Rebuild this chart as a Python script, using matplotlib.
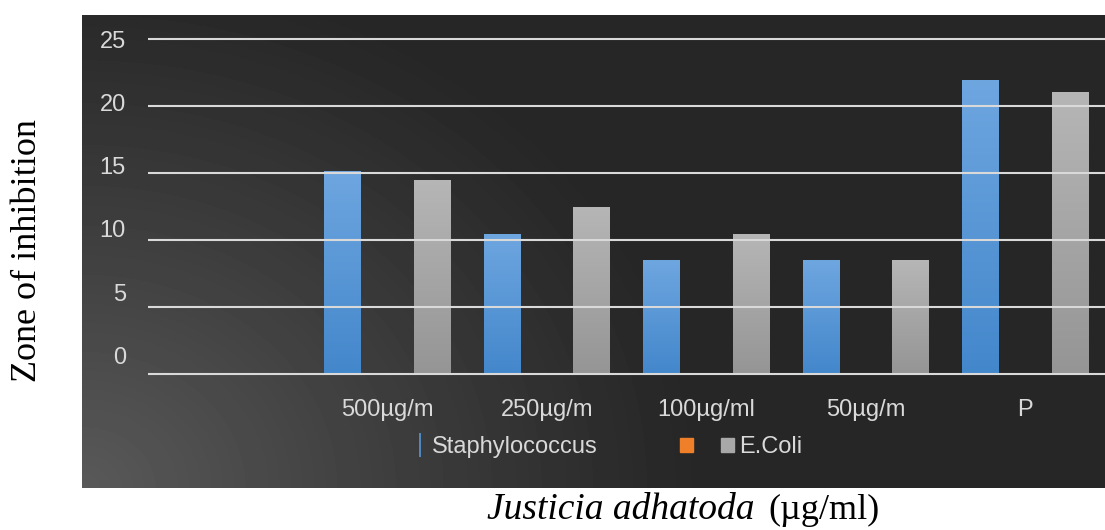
import matplotlib.pyplot as plt
import matplotlib.transforms as mtransforms
import numpy as np
from matplotlib.lines import Line2D
from matplotlib.patches import Patch
from matplotlib.colors import LinearSegmentedColormap

# data
categories = ['', '500µg/m', '250µg/m', '100µg/ml', '50µg/m', 'P']
staph = [0, 15.2, 10.5, 8.5, 8.5, 22.0]
series2 = [0, 0, 0, 0, 0, 0]
ecoli = [0, 14.5, 12.5, 10.5, 8.5, 21.1]
yticks = [0, 5, 10, 15, 20, 25]

blue = '#5597d9'
orange = '#f07f2a'
grey = '#a8a8a8'
light = '#d9d9d9'

plt.rcParams['font.family'] = ['Liberation Sans', 'DejaVu Sans']

W, H = 1105, 530
fig = plt.figure(figsize=(W / 100, H / 100), dpi=100)

# dark gradient panel behind the chart
pw, ph = 1023, 473
bg = fig.add_axes([82 / W, 42 / H, pw / W, ph / H])
yy, xx = np.mgrid[0:ph, 0:pw]
d = np.hypot((xx - 0) / 620, (yy - 473) / 520)
shade = 0.15 + 0.20 * np.clip(1 - d, 0, 1) ** 1.1
bg.imshow(shade, cmap='gray', vmin=0, vmax=1, aspect='auto', origin='upper')
bg.axis('off')

# main chart axes
ax = fig.add_axes([148 / W, 1 - 377 / H, (W - 148) / W, 341.7 / H])
ax.patch.set_alpha(0)

x = np.arange(len(categories))
bw = 0.227
b1 = ax.bar(x - 0.28, staph, bw, color=blue)
b2 = ax.bar(x, series2, bw, color=orange)
b3 = ax.bar(x + 0.28, ecoli, bw, color=grey)

ax.set_xlim(-0.5, len(categories) - 0.5)
ax.set_ylim(-0.2, 25.3)

# soft vertical gradient on each bar, lighter at the top
grad = np.linspace(1, 0, 256).reshape(-1, 1)
cm_blue = LinearSegmentedColormap.from_list('b', ['#4387cb', '#6ea6e0'])
cm_grey = LinearSegmentedColormap.from_list('g', ['#959595', '#b6b6b6'])
for bars, cm in [(b1, cm_blue), (b3, cm_grey)]:
    for bar in bars:
        if bar.get_height() <= 0:
            continue
        x0, w0, h0 = bar.get_x(), bar.get_width(), bar.get_height()
        im = ax.imshow(grad[::-1], cmap=cm, aspect='auto', origin='lower',
                       extent=(x0, x0 + w0, 0, h0), zorder=1.2)
        im.set_clip_path(bar)

ax.set_xlim(-0.5, len(categories) - 0.5)
ax.set_ylim(-0.2, 25.3)
ax.set_yticks(yticks)
ax.set_xticks(x)
ax.set_xticklabels(categories)
ax.yaxis.grid(True, color=light, linewidth=1.5)
for s in ax.spines.values():
    s.set_visible(False)
ax.tick_params(axis='both', length=0, colors=light, labelsize=17)
ax.tick_params(axis='x', pad=15.5)
ax.tick_params(axis='y', pad=16)

# labels sit above their gridlines in the original, more so lower down
for v, lab in zip(yticks, ax.get_yticklabels()):
    up = 19 * (1 - v / 25) * 0.72
    lab.set_transform(lab.get_transform() +
                      mtransforms.ScaledTranslation(0, up / 72, fig.dpi_scale_trans))

# legend
ly = 1 - 447 / H
h1 = Line2D([0], [0], color=blue, marker='|', ls='none', markersize=17, mew=1.2)
fig.legend([h1], ['Staphylococcus'], loc='center left',
           bbox_to_anchor=(414 / W, ly), frameon=False, fontsize=17,
           labelcolor=light, handlelength=0.55, handletextpad=0.2,
           borderpad=0, borderaxespad=0)
h2 = Patch(color=orange)
h3 = Patch(color=grey)
fig.legend([h2, h3], ['', 'E.Coli'], loc='center left', ncol=2,
           bbox_to_anchor=(680 / W, ly), frameon=False, fontsize=17,
           labelcolor=light, handlelength=0.55, handleheight=0.55,
           handletextpad=0.2, columnspacing=1.0, borderpad=0, borderaxespad=0)

# axis titles outside the panel
fig.text(28 / W, 1 - 251 / H, 'Zone of inhibition', rotation=90,
         family='Liberation Serif', fontsize=26, ha='center', va='center')
fig.text(487 / W, 1 - 519 / H, 'Justicia adhatoda', family='Liberation Serif',
         style='italic', fontsize=27, ha='left', va='baseline')
fig.text(768 / W, 1 - 519 / H, '(µg/ml)', family='Liberation Serif',
         fontsize=26, ha='left', va='baseline')

fig.savefig('out.png', dpi=100)
